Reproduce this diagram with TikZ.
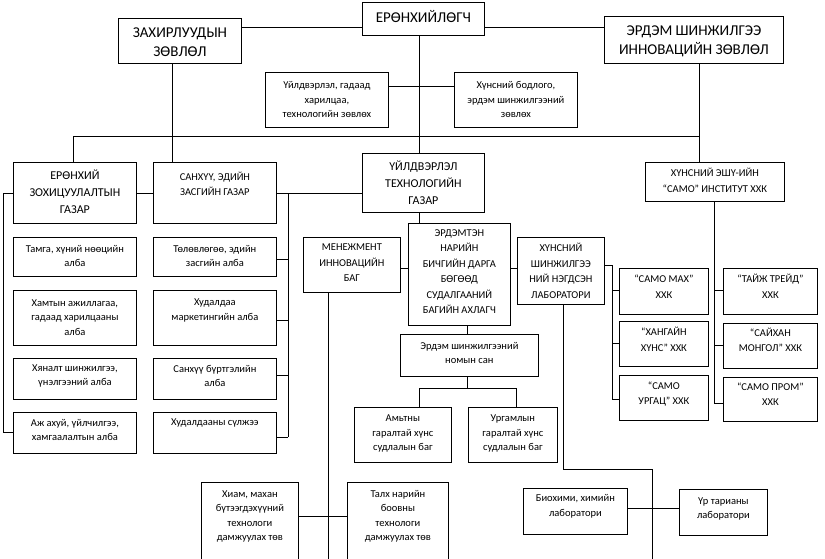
\documentclass[tikz,border=0pt]{standalone}
\usepackage{fontspec}
\setmainfont{Carlito}
\tikzset{
  boxst/.style={draw, line width=0.8pt, inner sep=0pt, fill=white},
  ln/.style={line width=0.8pt},
  tA/.style={align=center, inner sep=0pt, font=\fontsize{15}{19}\selectfont},
  tB/.style={align=center, inner sep=0pt, font=\fontsize{12}{17}\selectfont},
  tC/.style={align=center, inner sep=0pt, font=\fontsize{10.5}{15.5}\selectfont},
  tD/.style={align=center, inner sep=0pt, font=\fontsize{10.5}{14.5}\selectfont},
}
\newcommand\bx[8]{%
  \node[boxst, minimum width=#4pt, minimum height=#5pt, anchor=north west] (#1) at (#2,#3) {};
  \node[#6] (#1t) at (#1.center |- 0,#7) {#8};}
\begin{document}
\begin{tikzpicture}[x=1pt,y=-1pt]
\clip (0,0) rectangle (825,558);
\fill[white] (0,0) rectangle (825,558);
% connectors first (boxes drawn on top)
\draw[ln] (118,27) -- (362,27);
\draw[ln] (484,27) -- (604,27);
\draw[ln] (419,35) -- (419,153);
\draw[ln] (388,86) -- (454,86);
\draw[ln] (73,136) -- (699,136);
\draw[ln] (172,63) -- (172,162);
\draw[ln] (699,63) -- (699,162);
\draw[ln] (73,136) -- (73,162);
\draw[ln] (136,193) -- (362,193);
\draw[ln] (13,193) -- (3,193) -- (3,432) -- (13,432);
\draw[ln] (288,193) -- (288,437);
\foreach \y in {259,320,375,437} \draw[ln] (276,\y) -- (288,\y);
\draw[ln] (419,212) -- (419,223);
\draw[ln] (400,268) -- (517,268);
\draw[ln] (328,292) -- (328,570);
\draw[ln] (298,516) -- (347,516);
\draw[ln] (467,325) -- (467,388);
\draw[ln] (419,407) -- (419,388) -- (516,388) -- (516,407);
\draw[ln] (604,265) -- (612,265) -- (612,399);
\foreach \y in {290,343,399} \draw[ln] (612,\y) -- (619,\y);
\draw[ln] (563,304) -- (563,469) -- (652,469) -- (652,570);
\draw[ln] (627,508) -- (679,508);
\draw[ln] (714,201) -- (714,403);
\foreach \y in {290,345,403} \draw[ln] (714,\y) -- (723,\y);
% boxes
\bx{zah}{118}{18}{123}{45}{tA}{42.5}{ЗАХИРЛУУДЫН\\ЗӨВЛӨЛ}
\bx{pres}{362}{2}{122}{33}{tA}{16}{ЕРӨНХИЙЛӨГЧ}
\bx{esic}{604}{16}{179}{47}{tA}{41.5}{ЭРДЭМ ШИНЖИЛГЭЭ\\ИННОВАЦИЙН ЗӨВЛӨЛ}
\bx{adv1}{265}{72}{123}{55}{tD}{99.5}{Үйлдвэрлэл, гадаад\\харилцаа,\\технологийн зөвлөх}
\bx{adv2}{454}{72}{123}{55}{tD}{99.5}{Хүнсний бодлого,\\эрдэм шинжилгээний\\зөвлөх}
\bx{gen}{13}{162}{123}{61}{tB}{191.5}{ЕРӨНХИЙ\\ЗОХИЦУУЛАЛТЫН\\ГАЗАР}
\bx{fin}{153}{162}{123}{61}{tC}{184}{САНХҮҮ, ЭДИЙН\\ЗАСГИЙН ГАЗАР}
\bx{prod}{362}{153}{122}{59}{tB}{182.5}{ҮЙЛДВЭРЛЭЛ\\ТЕХНОЛОГИЙН\\ГАЗАР}
\bx{sec}{408}{223}{102}{102}{tC}{271.5}{ЭРДЭМТЭН\\НАРИЙН\\БИЧГИЙН ДАРГА\\БӨГӨӨД\\СУДАЛГААНИЙ\\БАГИЙН АХЛАГЧ}
\bx{mgmt}{303}{237}{97}{55}{tC}{263}{МЕНЕЖМЕНТ\\ИННОВАЦИЙН\\БАГ}
\bx{lab}{517}{237}{87}{67}{tC}{271}{ХҮНСНИЙ\\ШИНЖИЛГЭЭ\\НИЙ НЭГДСЭН\\ЛАБОРАТОРИ}
\bx{inst}{645}{162}{139}{39}{tC}{180.5}{ХҮНСНИЙ ЭШҮ-ИЙН\\“САМО” ИНСТИТУТ ХХК}
\bx{g1}{13}{237}{123}{39}{tD}{256}{Тамга, хүний нөөцийн\\алба}
\bx{g2}{13}{290}{123}{55}{tD}{317.5}{Хамтын ажиллагаа,\\гадаад харилцааны\\алба}
\bx{g3}{13}{358}{123}{41}{tD}{376}{Хяналт шинжилгээ,\\үнэлгээний алба}
\bx{g4}{13}{412}{123}{41}{tD}{430}{Аж ахуй, үйлчилгээ,\\хамгаалалтын алба}
\bx{f1}{153}{237}{123}{39}{tD}{256}{Төлөвлөгөө, эдийн\\засгийн алба}
\bx{f2}{153}{290}{123}{55}{tD}{310.5}{Худалдаа\\маркетингийн алба}
\bx{f3}{153}{358}{123}{41}{tD}{376}{Санхүү бүртгэлийн\\алба}
\bx{f4}{153}{412}{123}{41}{tD}{423}{Худалдааны сүлжээ}
\bx{c1}{619}{268}{89}{46}{tC}{286.5}{“САМО МАХ”\\ХХК}
\bx{c2}{619}{321}{89}{45}{tC}{339.5}{“ХАНГАЙН\\ХҮНС” ХХК}
\bx{c3}{619}{375}{89}{45}{tC}{394}{“САМО\\УРГАЦ” ХХК}
\bx{d1}{723}{268}{94}{46}{tC}{286.5}{“ТАЙЖ ТРЕЙД”\\ХХК}
\bx{d2}{723}{323}{94}{45}{tC}{340}{“САЙХАН\\МОНГОЛ” ХХК}
\bx{d3}{723}{377}{94}{44}{tC}{394}{“САМО ПРОМ”\\ХХК}
\bx{lib}{400}{334}{138}{42}{tD}{353}{Эрдэм шинжилгээний\\номын сан}
\bx{anim}{354}{407}{97}{55}{tD}{433.5}{Амьтны\\гаралтай хүнс\\судлалын баг}
\bx{plant}{468}{407}{89}{55}{tD}{433.5}{Ургамлын\\гаралтай хүнс\\судлалын баг}
\bx{meat}{201}{482}{97}{120}{tD}{516.5}{Хиам, махан\\бүтээгдэхүүний\\технологи\\дамжуулах төв}
\bx{bread}{347}{482}{101}{120}{tD}{516.5}{Талх нарийн\\боовны\\технологи\\дамжуулах төв}
\bx{bio}{523}{488}{104}{46}{tD}{506.5}{Биохими, химийн\\лаборатори}
\bx{grain}{679}{489}{88}{46}{tD}{509}{Үр тарианы\\лаборатори}
\end{tikzpicture}
\end{document}
